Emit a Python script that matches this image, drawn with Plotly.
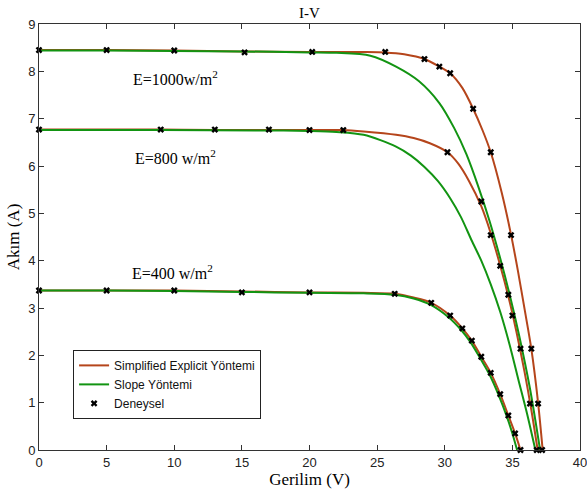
import plotly.graph_objects as go

# ---------------- data ----------------
# Simplified Explicit Yöntemi (red-brown curves)
se1000_v = [0, 5, 10, 15, 20, 24, 25.6, 27, 28.5, 29.6, 30.4, 31.3, 32.1, 32.8, 33.4, 34.2, 34.9, 35.4, 35.9, 36.4, 36.9, 37.24]
se1000_i = [8.45, 8.45, 8.44, 8.42, 8.41, 8.41, 8.40, 8.36, 8.26, 8.10, 7.96, 7.65, 7.21, 6.75, 6.29, 5.45, 4.55, 3.80, 2.98, 2.14, 1.00, 0]
se800_v = [0, 9, 13, 17, 20, 22.5, 24, 26.4, 27.7, 28.9, 30.2, 31.0, 31.8, 32.7, 33.4, 34.1, 34.7, 35.3, 35.9, 36.4, 36.87]
se800_i = [6.77, 6.77, 6.76, 6.76, 6.76, 6.76, 6.73, 6.66, 6.59, 6.48, 6.29, 6.05, 5.68, 5.15, 4.58, 3.90, 3.25, 2.50, 1.65, 0.85, 0]
se400_v = [0, 5, 10, 15, 20, 24, 26.3, 27.7, 29.0, 30.4, 31.3, 32.0, 32.7, 33.4, 34.1, 34.7, 35.2, 35.6]
se400_i = [3.37, 3.37, 3.37, 3.35, 3.33, 3.32, 3.30, 3.22, 3.11, 2.84, 2.57, 2.31, 1.97, 1.63, 1.18, 0.73, 0.35, 0]

# Slope Yöntemi (green curves)
sl1000_v = [0, 5, 10, 15, 20, 22, 24.5, 26.4, 28.1, 29.6, 30.7, 31.6, 32.5, 33.3, 34.1, 34.8, 35.5, 36.3, 37.05]
sl1000_i = [8.44, 8.44, 8.43, 8.42, 8.40, 8.39, 8.33, 8.10, 7.79, 7.33, 6.80, 6.25, 5.55, 4.85, 4.05, 3.28, 2.42, 1.30, 0]
sl800_v = [0, 9, 17, 20, 22, 24, 26.4, 27.5, 28.5, 29.5, 30.4, 31.2, 32.0, 32.7, 33.4, 34.1, 34.8, 35.45, 36.1, 36.7]
sl800_i = [6.76, 6.76, 6.75, 6.74, 6.72, 6.66, 6.41, 6.22, 5.98, 5.68, 5.32, 4.92, 4.42, 4.00, 3.50, 2.92, 2.22, 1.48, 0.75, 0]
sl400_v = [0, 5, 10, 15, 20, 24, 26.3, 27.7, 29.0, 30.3, 31.2, 31.9, 32.6, 33.3, 34.0, 34.6, 35.0, 35.35]
sl400_i = [3.37, 3.37, 3.36, 3.34, 3.32, 3.31, 3.28, 3.20, 3.06, 2.80, 2.54, 2.28, 1.95, 1.60, 1.15, 0.70, 0.35, 0]

# Deneysel (experimental markers)
ex1000_v = [0, 5, 10, 15.2, 20.2, 25.6, 28.5, 29.6, 30.4, 32.1, 33.4, 34.9, 36.4, 36.9, 37.2]
ex1000_i = [8.45, 8.45, 8.44, 8.40, 8.41, 8.41, 8.26, 8.10, 7.96, 7.21, 6.29, 4.54, 2.14, 0.98, 0.0]
ex800_v = [0, 9, 13, 17, 20, 22.5, 30.2, 32.7, 33.4, 34.1, 34.7, 35.0, 35.6, 36.3, 36.8]
ex800_i = [6.77, 6.77, 6.77, 6.77, 6.76, 6.76, 6.29, 5.25, 4.54, 3.89, 3.28, 2.84, 2.14, 0.98, 0.0]
ex400_v = [0, 5, 10, 15, 20, 26.3, 29.0, 30.4, 31.3, 32.0, 32.7, 33.4, 34.1, 34.7, 35.2, 35.6]
ex400_i = [3.37, 3.37, 3.37, 3.33, 3.33, 3.30, 3.11, 2.84, 2.57, 2.31, 1.97, 1.63, 1.18, 0.73, 0.35, 0.0]

irr_labels = ["E=1000w/m<sup>2</sup>", "E=800 w/m<sup>2</sup>", "E=400 w/m<sup>2</sup>"]
irr_label_pos = [(10.1, 7.86), (10.1, 6.2), (9.9, 3.77)]

x_ticks = [0, 5, 10, 15, 20, 25, 30, 35, 40]
y_ticks = [0, 1, 2, 3, 4, 5, 6, 7, 8, 9]

# ---------------- styles ----------------
RED = "#b5451b"
GREEN = "#129412"
SERIF = "Liberation Serif, Times New Roman, serif"
SANS = "Liberation Sans, Arial, sans-serif"

fig = go.Figure()

red_sets = [(se1000_v, se1000_i), (se800_v, se800_i), (se400_v, se400_i)]
green_sets = [(sl1000_v, sl1000_i), (sl800_v, sl800_i), (sl400_v, sl400_i)]

for k, (v, i) in enumerate(red_sets):
    fig.add_trace(go.Scatter(x=v, y=i, mode="lines", line=dict(color=RED, width=2, shape="spline", smoothing=0.8),
                             name="Simplified Explicit Yöntemi", legendgroup="se", showlegend=(k == 0)))
for k, (v, i) in enumerate(green_sets):
    fig.add_trace(go.Scatter(x=v, y=i, mode="lines", line=dict(color=GREEN, width=2, shape="spline", smoothing=0.8),
                             name="Slope Yöntemi", legendgroup="sl", showlegend=(k == 0)))

ex_v = ex1000_v + ex800_v + ex400_v
ex_i = ex1000_i + ex800_i + ex400_i
fig.add_trace(go.Scatter(x=ex_v, y=ex_i, mode="markers", name="Deneysel",
                         marker=dict(symbol="x", size=6, color="black", line=dict(width=0)),
                         cliponaxis=False))

for txt, (ax, ay) in zip(irr_labels, irr_label_pos):
    fig.add_annotation(x=ax, y=ay, text=txt, showarrow=False, xref="x", yref="y",
                       font=dict(family=SERIF, size=16, color="black"))

axis_common = dict(showgrid=False, zeroline=False, showline=True, linecolor="#333", linewidth=1,
                   mirror="ticks", ticks="inside", ticklen=5, tickcolor="#333",
                   ticklabeloverflow="allow",
                   tickfont=dict(family=SANS, size=13, color="#222"))

fig.update_xaxes(range=[0, 40], tickvals=x_ticks, **axis_common,
                 title=dict(text="Gerilim (V)", font=dict(family=SERIF, size=17, color="black"), standoff=3))
fig.update_yaxes(range=[0, 9], tickvals=y_ticks, **axis_common,
                 title=dict(text="Akım (A)", font=dict(family=SERIF, size=17, color="black"), standoff=4))

fig.update_layout(
    width=587, height=492,
    margin=dict(l=39, r=7, t=24, b=42, autoexpand=False),
    paper_bgcolor="white", plot_bgcolor="white",
    title=dict(text="I-V", x=0.5, xref="paper", y=1 - 13 / 492, yref="container", yanchor="middle",
               font=dict(family=SERIF, size=15, color="black")),
    legend=dict(x=0.063, y=0.235, xanchor="left", yanchor="top", bgcolor="white",
                bordercolor="#222", borderwidth=1, font=dict(family=SANS, size=12, color="#111"),
                tracegroupgap=0),
    showlegend=True,
)

fig.write_html("out.html", config={"displayModeBar": False},
               post_script="document.body.style.margin='0px';")
